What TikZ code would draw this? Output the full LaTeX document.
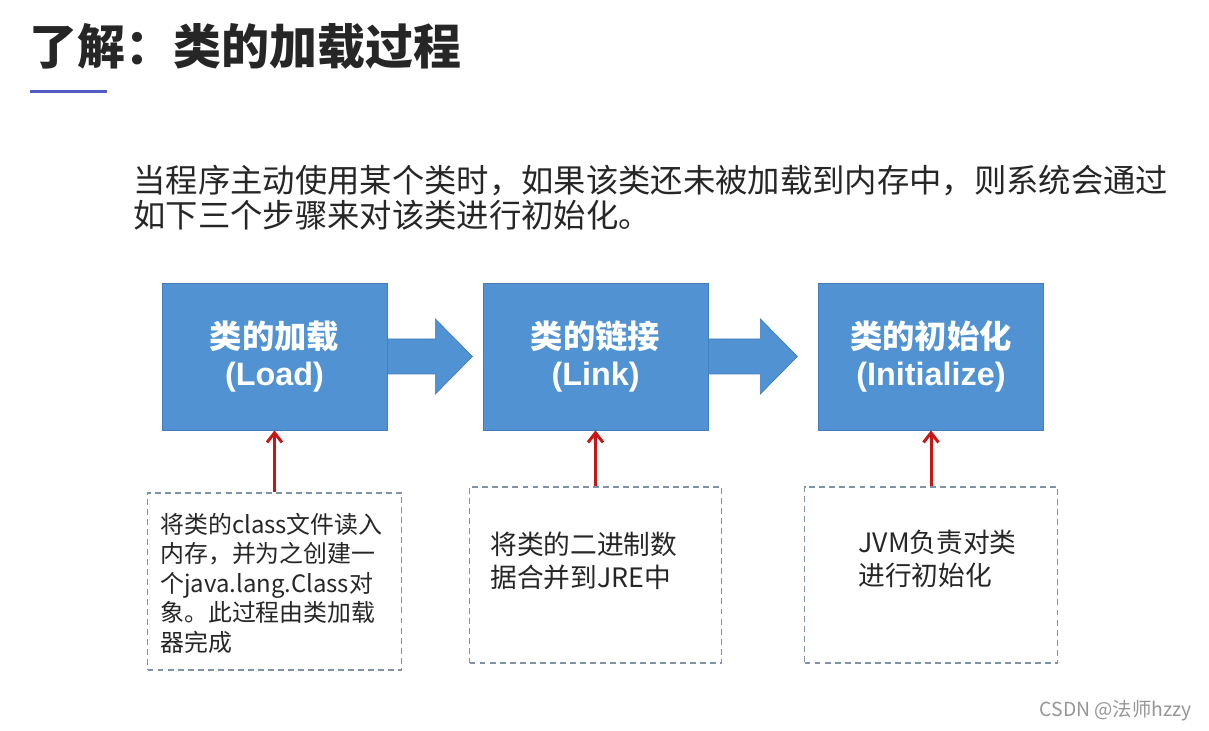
\documentclass[tikz,border=0pt]{standalone}
\usepackage{fontspec}
\usepackage{xcolor}
\setmainfont{Noto Sans CJK SC}
\newfontfamily\latinsans{Liberation Sans}
\usetikzlibrary{calc,arrows.meta}

\definecolor{boxblue}{RGB}{80,146,210}
\definecolor{boxedge}{RGB}{68,124,188}
\definecolor{feedred}{RGB}{200,22,22}
\definecolor{dashgray}{RGB}{128,146,166}
\definecolor{inkgray}{RGB}{38,38,38}
\definecolor{rulelilac}{RGB}{80,92,196}
\definecolor{markgray}{RGB}{150,150,150}

\tikzset{
	stage/.style={draw=boxedge, fill=boxblue, text=white, minimum width=4.5cm, minimum height=2.94cm, align=center, font=\fontsize{18.4pt}{21.5pt}\selectfont\bfseries},
	note/.style={draw=dashgray, dash pattern=on 3.4pt off 2.3pt, line width=0.8pt, minimum width=5.06cm, minimum height=3.52cm},
	notetext/.style={anchor=west, align=left, inner sep=0pt, text=inkgray, font=\fontsize{15.2pt}{18.7pt}\selectfont},
	feed/.style={draw=feedred, line width=1.7pt, -{Straight Barb[length=5.5pt,width=8.5pt]}}
}

\begin{document}
\begin{tikzpicture}
		\fill[white] (0,0) rectangle (24.18,14.62);
		\useasboundingbox (0,0) rectangle (24.18,14.62);
		% heading
		\node[anchor=west, inner sep=0pt, text=inkgray, font=\fontsize{27.3pt}{30pt}\selectfont\bfseries] (title) at (0.58,13.68) {了解：类的加载过程};
		\draw[rulelilac, line width=1.7pt] (0.60,12.78)--(2.14,12.78);
		\node[anchor=west, align=left, inner sep=0pt, text=inkgray, font=\fontsize{18.4pt}{19.9pt}\selectfont] (intro) at (2.66,10.67) {当程序主动使用某个类时，如果该类还未被加载到内存中，则系统会通过\\如下三个步骤来对该类进行初始化。};
		% stages
		\node[stage] (load) at (5.49,7.49) {类的加载\\{\latinsans (Load)}};
		\node[stage] (link) at (11.91,7.49) {类的链接\\{\latinsans (Link)}};
		\node[stage] (init) at (18.62,7.49) {类的初始化\\{\latinsans (Initialize)}};
		\filldraw[fill=boxblue, draw=boxedge, line width=0.4pt] ($(load.east)+(0,0.35)$)--++(0.96,0)--++(0,0.40)--++(0.74,-0.75)--++(-0.74,-0.75)--++(0,0.40)--++(-0.96,0)--cycle;
		\filldraw[fill=boxblue, draw=boxedge, line width=0.4pt] ($(link.east)+(0,0.35)$)--++(1.04,0)--++(0,0.40)--++(0.74,-0.75)--++(-0.74,-0.75)--++(0,0.40)--++(-1.04,0)--cycle;
		% notes
		\node[note, minimum width=5.08cm, minimum height=3.54cm] (noteA) at (5.49,2.99) {};
		\node[note, minimum width=5.04cm] (noteB) at (11.91,3.12) {};
		\node[note] (noteC) at (18.62,3.12) {};
		\node[notetext, font=\fontsize{13.6pt}{16.8pt}\selectfont] (textA) at (3.20,2.96) {将类的class文件读入\\内存，并为之创建一\\个java.lang.Class对\\象。此过程由类加载\\器完成};
		\node[notetext] (textB) at (9.80,3.40) {将类的二进制数\\据合并到JRE中};
		\node[notetext] (textC) at (17.16,3.44) {JVM负责对类\\进行初始化};
		\draw[feed] (noteA.north)--(load.south);
		\draw[feed] (noteB.north)--(link.south);
		\draw[feed] (noteC.north)--(init.south);
		\node[anchor=east, inner sep=0pt, text=markgray, font=\fontsize{11pt}{13pt}\selectfont] (mark) at (23.84,0.40) {CSDN @法师hzzy};
	\end{tikzpicture}
\end{document}
